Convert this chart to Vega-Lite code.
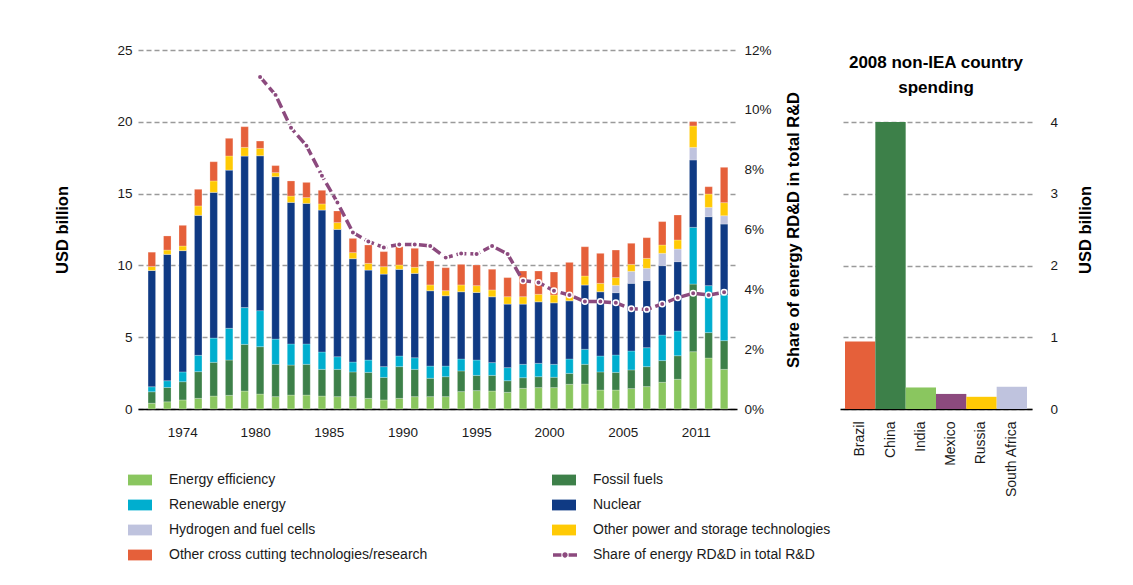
{
  "$schema": "https://vega.github.io/schema/vega-lite/v6.json",
  "padding": {"left": 54, "top": 43, "right": 5, "bottom": 5},
  "background": "white",
  "config": {
    "font": "Liberation Sans",
    "view": {"stroke": null},
    "axis": {
      "labelFont": "Liberation Sans",
      "labelFontSize": 13.5,
      "labelColor": "#1a1a1a",
      "titleFont": "Liberation Sans",
      "titleFontSize": 16.5,
      "titleFontWeight": "bold",
      "titleColor": "#000000",
      "ticks": false,
      "domain": false,
      "gridColor": "#9a9a9a",
      "gridDash": [5, 3],
      "gridWidth": 1.3
    },
    "legend": {
      "labelFont": "Liberation Sans",
      "labelFontSize": 14,
      "labelColor": "#1a1a1a",
      "labelLimit": 400,
      "padding": 0
    }
  },
  "datasets": {
    "rd": [
      {"year": 1974, "Energy efficiency": 0.4, "Fossil fuels": 0.8, "Renewable energy": 0.35, "Nuclear": 8.1, "Hydrogen and fuel cells": 0, "Other power and storage technologies": 0.27, "Other cross cutting technologies/research": 1.0},
      {"year": 1975, "Energy efficiency": 0.5, "Fossil fuels": 1.0, "Renewable energy": 0.47, "Nuclear": 8.8, "Hydrogen and fuel cells": 0, "Other power and storage technologies": 0.3, "Other cross cutting technologies/research": 0.98},
      {"year": 1976, "Energy efficiency": 0.63, "Fossil fuels": 1.27, "Renewable energy": 0.68, "Nuclear": 8.45, "Hydrogen and fuel cells": 0, "Other power and storage technologies": 0.32, "Other cross cutting technologies/research": 1.44},
      {"year": 1977, "Energy efficiency": 0.74, "Fossil fuels": 1.86, "Renewable energy": 1.14, "Nuclear": 9.75, "Hydrogen and fuel cells": 0, "Other power and storage technologies": 0.65, "Other cross cutting technologies/research": 1.16},
      {"year": 1978, "Energy efficiency": 0.9, "Fossil fuels": 2.35, "Renewable energy": 1.69, "Nuclear": 10.15, "Hydrogen and fuel cells": 0, "Other power and storage technologies": 0.79, "Other cross cutting technologies/research": 1.34},
      {"year": 1979, "Energy efficiency": 0.95, "Fossil fuels": 2.46, "Renewable energy": 2.21, "Nuclear": 11.02, "Hydrogen and fuel cells": 0, "Other power and storage technologies": 0.98, "Other cross cutting technologies/research": 1.23},
      {"year": 1980, "Energy efficiency": 1.25, "Fossil fuels": 3.25, "Renewable energy": 2.56, "Nuclear": 10.56, "Hydrogen and fuel cells": 0, "Other power and storage technologies": 0.6, "Other cross cutting technologies/research": 1.44},
      {"year": 1981, "Energy efficiency": 1.04, "Fossil fuels": 3.3, "Renewable energy": 2.51, "Nuclear": 10.79, "Hydrogen and fuel cells": 0, "Other power and storage technologies": 0.51, "Other cross cutting technologies/research": 0.51},
      {"year": 1982, "Energy efficiency": 0.86, "Fossil fuels": 2.25, "Renewable energy": 1.76, "Nuclear": 11.31, "Hydrogen and fuel cells": 0, "Other power and storage technologies": 0.28, "Other cross cutting technologies/research": 0.49},
      {"year": 1983, "Energy efficiency": 0.97, "Fossil fuels": 2.09, "Renewable energy": 1.47, "Nuclear": 9.86, "Hydrogen and fuel cells": 0, "Other power and storage technologies": 0.44, "Other cross cutting technologies/research": 1.05},
      {"year": 1984, "Energy efficiency": 0.97, "Fossil fuels": 2.14, "Renewable energy": 1.42, "Nuclear": 9.79, "Hydrogen and fuel cells": 0, "Other power and storage technologies": 0.4, "Other cross cutting technologies/research": 1.06},
      {"year": 1985, "Energy efficiency": 0.9, "Fossil fuels": 1.86, "Renewable energy": 1.21, "Nuclear": 9.89, "Hydrogen and fuel cells": 0, "Other power and storage technologies": 0.42, "Other cross cutting technologies/research": 0.95},
      {"year": 1986, "Energy efficiency": 0.86, "Fossil fuels": 1.9, "Renewable energy": 0.88, "Nuclear": 8.87, "Hydrogen and fuel cells": 0, "Other power and storage technologies": 0.47, "Other cross cutting technologies/research": 0.81},
      {"year": 1987, "Energy efficiency": 0.86, "Fossil fuels": 1.72, "Renewable energy": 0.69, "Nuclear": 7.2, "Hydrogen and fuel cells": 0, "Other power and storage technologies": 0.42, "Other cross cutting technologies/research": 0.99},
      {"year": 1988, "Energy efficiency": 0.74, "Fossil fuels": 1.81, "Renewable energy": 0.86, "Nuclear": 6.27, "Hydrogen and fuel cells": 0, "Other power and storage technologies": 0.46, "Other cross cutting technologies/research": 1.28},
      {"year": 1989, "Energy efficiency": 0.63, "Fossil fuels": 1.57, "Renewable energy": 0.75, "Nuclear": 6.45, "Hydrogen and fuel cells": 0, "Other power and storage technologies": 0.51, "Other cross cutting technologies/research": 1.05},
      {"year": 1990, "Energy efficiency": 0.74, "Fossil fuels": 2.21, "Renewable energy": 0.74, "Nuclear": 6.04, "Hydrogen and fuel cells": 0, "Other power and storage technologies": 0.3, "Other cross cutting technologies/research": 1.27},
      {"year": 1991, "Energy efficiency": 0.86, "Fossil fuels": 1.9, "Renewable energy": 0.81, "Nuclear": 5.88, "Hydrogen and fuel cells": 0, "Other power and storage technologies": 0.42, "Other cross cutting technologies/research": 1.32},
      {"year": 1992, "Energy efficiency": 0.86, "Fossil fuels": 1.28, "Renewable energy": 0.85, "Nuclear": 5.25, "Hydrogen and fuel cells": 0, "Other power and storage technologies": 0.4, "Other cross cutting technologies/research": 1.67},
      {"year": 1993, "Energy efficiency": 0.86, "Fossil fuels": 1.39, "Renewable energy": 0.74, "Nuclear": 4.9, "Hydrogen and fuel cells": 0, "Other power and storage technologies": 0.35, "Other cross cutting technologies/research": 1.6},
      {"year": 1994, "Energy efficiency": 1.21, "Fossil fuels": 1.44, "Renewable energy": 0.83, "Nuclear": 4.69, "Hydrogen and fuel cells": 0, "Other power and storage technologies": 0.47, "Other cross cutting technologies/research": 1.43},
      {"year": 1995, "Energy efficiency": 1.28, "Fossil fuels": 1.06, "Renewable energy": 1.07, "Nuclear": 4.71, "Hydrogen and fuel cells": 0, "Other power and storage technologies": 0.47, "Other cross cutting technologies/research": 1.44},
      {"year": 1996, "Energy efficiency": 1.25, "Fossil fuels": 1.09, "Renewable energy": 0.89, "Nuclear": 4.59, "Hydrogen and fuel cells": 0, "Other power and storage technologies": 0.47, "Other cross cutting technologies/research": 1.44},
      {"year": 1997, "Energy efficiency": 1.16, "Fossil fuels": 0.81, "Renewable energy": 0.91, "Nuclear": 4.43, "Hydrogen and fuel cells": 0, "Other power and storage technologies": 0.51, "Other cross cutting technologies/research": 1.33},
      {"year": 1998, "Energy efficiency": 1.44, "Fossil fuels": 0.74, "Renewable energy": 0.93, "Nuclear": 4.2, "Hydrogen and fuel cells": 0, "Other power and storage technologies": 0.51, "Other cross cutting technologies/research": 1.79},
      {"year": 1999, "Energy efficiency": 1.49, "Fossil fuels": 0.76, "Renewable energy": 0.93, "Nuclear": 4.29, "Hydrogen and fuel cells": 0, "Other power and storage technologies": 0.52, "Other cross cutting technologies/research": 1.62},
      {"year": 2000, "Energy efficiency": 1.49, "Fossil fuels": 0.72, "Renewable energy": 0.9, "Nuclear": 4.29, "Hydrogen and fuel cells": 0, "Other power and storage technologies": 0.54, "Other cross cutting technologies/research": 1.6},
      {"year": 2001, "Energy efficiency": 1.72, "Fossil fuels": 0.76, "Renewable energy": 1.0, "Nuclear": 4.06, "Hydrogen and fuel cells": 0, "Other power and storage technologies": 0.28, "Other cross cutting technologies/research": 2.39},
      {"year": 2002, "Energy efficiency": 1.74, "Fossil fuels": 1.37, "Renewable energy": 1.05, "Nuclear": 4.48, "Hydrogen and fuel cells": 0, "Other power and storage technologies": 0.62, "Other cross cutting technologies/research": 2.04},
      {"year": 2003, "Energy efficiency": 1.32, "Fossil fuels": 1.26, "Renewable energy": 1.11, "Nuclear": 4.48, "Hydrogen and fuel cells": 0, "Other power and storage technologies": 0.58, "Other cross cutting technologies/research": 2.09},
      {"year": 2004, "Energy efficiency": 1.32, "Fossil fuels": 1.23, "Renewable energy": 1.21, "Nuclear": 4.34, "Hydrogen and fuel cells": 0.51, "Other power and storage technologies": 0.54, "Other cross cutting technologies/research": 1.92},
      {"year": 2005, "Energy efficiency": 1.42, "Fossil fuels": 1.3, "Renewable energy": 1.32, "Nuclear": 4.71, "Hydrogen and fuel cells": 0.84, "Other power and storage technologies": 0.48, "Other cross cutting technologies/research": 1.47},
      {"year": 2006, "Energy efficiency": 1.56, "Fossil fuels": 1.39, "Renewable energy": 1.32, "Nuclear": 4.67, "Hydrogen and fuel cells": 0.86, "Other power and storage technologies": 0.69, "Other cross cutting technologies/research": 1.44},
      {"year": 2007, "Energy efficiency": 1.86, "Fossil fuels": 1.51, "Renewable energy": 1.78, "Nuclear": 4.83, "Hydrogen and fuel cells": 0.86, "Other power and storage technologies": 0.58, "Other cross cutting technologies/research": 1.63},
      {"year": 2008, "Energy efficiency": 2.07, "Fossil fuels": 1.64, "Renewable energy": 1.72, "Nuclear": 4.83, "Hydrogen and fuel cells": 0.88, "Other power and storage technologies": 0.63, "Other cross cutting technologies/research": 1.74},
      {"year": 2009, "Energy efficiency": 3.99, "Fossil fuels": 4.71, "Renewable energy": 3.95, "Nuclear": 4.69, "Hydrogen and fuel cells": 0.88, "Other power and storage technologies": 1.49, "Other cross cutting technologies/research": 0.3},
      {"year": 2010, "Energy efficiency": 3.55, "Fossil fuels": 1.77, "Renewable energy": 3.27, "Nuclear": 4.8, "Hydrogen and fuel cells": 0.65, "Other power and storage technologies": 0.93, "Other cross cutting technologies/research": 0.51},
      {"year": 2011, "Energy efficiency": 2.76, "Fossil fuels": 2.0, "Renewable energy": 3.18, "Nuclear": 4.94, "Hydrogen and fuel cells": 0.58, "Other power and storage technologies": 0.91, "Other cross cutting technologies/research": 2.46}
    ],
    "techs": [
      {"tech": "Energy efficiency", "rank": 1},
      {"tech": "Fossil fuels", "rank": 2},
      {"tech": "Renewable energy", "rank": 3},
      {"tech": "Nuclear", "rank": 4},
      {"tech": "Hydrogen and fuel cells", "rank": 5},
      {"tech": "Other power and storage technologies", "rank": 6},
      {"tech": "Other cross cutting technologies/research", "rank": 7}
    ],
    "share": [
      {"year": 1981, "share": 11.1}, {"year": 1982, "share": 10.5}, {"year": 1983, "share": 9.4},
      {"year": 1984, "share": 8.8}, {"year": 1985, "share": 7.8}, {"year": 1986, "share": 6.9},
      {"year": 1987, "share": 5.9}, {"year": 1988, "share": 5.6}, {"year": 1989, "share": 5.4},
      {"year": 1990, "share": 5.5}, {"year": 1991, "share": 5.5}, {"year": 1992, "share": 5.45},
      {"year": 1993, "share": 5.06}, {"year": 1994, "share": 5.2}, {"year": 1995, "share": 5.18},
      {"year": 1996, "share": 5.45}, {"year": 1997, "share": 5.18}, {"year": 1998, "share": 4.29},
      {"year": 1999, "share": 4.23}, {"year": 2000, "share": 3.95}, {"year": 2001, "share": 3.81},
      {"year": 2002, "share": 3.59}, {"year": 2003, "share": 3.59}, {"year": 2004, "share": 3.55},
      {"year": 2005, "share": 3.35}, {"year": 2006, "share": 3.33}, {"year": 2007, "share": 3.51},
      {"year": 2008, "share": 3.72}, {"year": 2009, "share": 3.87}, {"year": 2010, "share": 3.81},
      {"year": 2011, "share": 3.9}
    ],
    "countries": [
      {"country": "Brazil", "value": 0.94},
      {"country": "China", "value": 4.0},
      {"country": "India", "value": 0.3},
      {"country": "Mexico", "value": 0.21},
      {"country": "Russia", "value": 0.17},
      {"country": "South Africa", "value": 0.31}
    ]
  },
  "hconcat": [
    {
      "width": 599,
      "height": 359,
      "layer": [
        {
          "data": {"name": "rd"},
          "transform": [
            {"fold": ["Energy efficiency", "Fossil fuels", "Renewable energy", "Nuclear", "Hydrogen and fuel cells", "Other power and storage technologies", "Other cross cutting technologies/research"], "as": ["tech", "value"]},
            {"lookup": "tech", "from": {"data": {"name": "techs"}, "key": "tech", "fields": ["rank"]}}
          ],
          "mark": {"type": "bar", "size": 7.5, "stroke": "white", "strokeWidth": 0.4, "strokeOpacity": 0.6},
          "encoding": {
            "x": {
              "field": "year", "type": "quantitative",
              "scale": {"domain": [1973.43, 2011.51], "nice": false, "zero": false},
              "axis": {
                "title": null, "grid": false, "domain": true, "domainColor": "#000000", "domainWidth": 1.5,
                "values": [1975.97, 1980.68, 1985.44, 1990.21, 1994.98, 1999.68, 2004.45, 2009.16],
                "labelExpr": "datum.value < 1978 ? '1974' : datum.value < 1983 ? '1980' : datum.value < 1988 ? '1985' : datum.value < 1992 ? '1990' : datum.value < 1997 ? '1995' : datum.value < 2002 ? '2000' : datum.value < 2007 ? '2005' : '2011'",
                "labelPadding": 16, "labelFlush": false, "labelOverlap": false
              }
            },
            "y": {
              "field": "value", "type": "quantitative", "stack": "zero",
              "scale": {"domain": [0, 25], "nice": false},
              "axis": {"values": [0, 5, 10, 15, 20, 25], "title": "USD billion", "labelPadding": 6, "titlePadding": 46, "grid": true}
            },
            "order": {"field": "rank", "type": "quantitative", "sort": "ascending"},
            "color": {
              "field": "tech", "type": "nominal",
              "sort": ["Energy efficiency", "Fossil fuels", "Renewable energy", "Nuclear", "Hydrogen and fuel cells", "Other power and storage technologies", "Other cross cutting technologies/research"],
              "scale": {
                "domain": ["Energy efficiency", "Fossil fuels", "Renewable energy", "Nuclear", "Hydrogen and fuel cells", "Other power and storage technologies", "Other cross cutting technologies/research"],
                "range": ["#8AC65F", "#3D8049", "#00AECF", "#0F3A84", "#BFC3DE", "#FFCA05", "#E5603A"]
              },
              "legend": {
                "title": null, "orient": "none", "legendX": -10, "legendY": 418,
                "direction": "horizontal", "columns": 2, "columnPadding": 124, "rowPadding": 6,
                "symbolType": "M-1,-0.45H1V0.45H-1Z", "symbolSize": 576, "symbolStrokeWidth": 0,
                "labelOffset": 17
              }
            }
          }
        },
        {
          "data": {"name": "share"},
          "encoding": {
            "x": {"field": "year", "type": "quantitative", "scale": {"domain": [1973.43, 2011.51], "nice": false, "zero": false}},
            "y": {
              "field": "share", "type": "quantitative",
              "scale": {"domain": [0, 12], "nice": false},
              "axis": {"orient": "right", "values": [0, 2, 4, 6, 8, 10, 12], "labelExpr": "datum.value + '%'", "grid": false, "title": "Share of energy RD&D in total R&D", "titleAngle": -90, "titleBaseline": "top", "labelPadding": 7, "titlePadding": 14}
            }
          },
          "layer": [
            {
              "mark": {"type": "line", "strokeDash": [10, 4], "strokeWidth": 3.5},
              "encoding": {
                "stroke": {
                  "datum": "Share of energy RD&D in total R&D", "type": "nominal",
                  "scale": {"range": ["#8C4A7E"]},
                  "legend": {
                    "title": null, "orient": "none", "legendX": 415, "legendY": 493,
                    "symbolType": "M-1,-0.14H-0.3V0.14H-1Z M0.3,-0.14H1V0.14H0.3Z M-0.22,0A0.22,0.22 0 1,0 0.22,0A0.22,0.22 0 1,0 -0.22,0Z",
                    "symbolSize": 576, "labelOffset": 16,
                    "encode": {"symbols": {"update": {"fill": {"value": "#8C4A7E"}, "strokeWidth": {"value": 0}}}}
                  }
                }
              }
            },
            {
              "mark": {"type": "point", "filled": true, "size": 30, "fill": "#8C4A7E", "stroke": "white", "strokeWidth": 1.5, "opacity": 1}
            }
          ]
        }
      ],
      "resolve": {"scale": {"y": "independent"}}
    },
    {
      "width": 192,
      "height": 359,
      "data": {"name": "countries"},
      "title": {
        "text": ["2008 non-IEA country", "spending"],
        "font": "Liberation Sans", "fontSize": 17, "fontWeight": "bold", "color": "#000000",
        "anchor": "middle", "lineHeight": 25, "offset": -47
      },
      "mark": {"type": "bar"},
      "encoding": {
        "x": {
          "field": "country", "type": "nominal",
          "scale": {"paddingInner": 0, "paddingOuter": 0.165},
          "axis": {"title": null, "labelAngle": -90, "labelFontSize": 14, "domain": true, "domainColor": "#000000", "domainWidth": 1.5, "labelPadding": 12}
        },
        "y": {
          "field": "value", "type": "quantitative",
          "scale": {"domain": [0, 5.0035], "nice": false},
          "axis": {"orient": "right", "values": [0, 1, 2, 3, 4], "title": "USD billion", "titleAngle": -90, "titleBaseline": "top", "labelPadding": 18, "titlePadding": 20, "grid": true}
        },
        "color": {
          "field": "country", "type": "nominal",
          "scale": {
            "domain": ["Brazil", "China", "India", "Mexico", "Russia", "South Africa"],
            "range": ["#E5603A", "#3D8049", "#8AC65F", "#8C4A7E", "#FFCA05", "#BFC3DE"]
          },
          "legend": null
        }
      }
    }
  ],
  "spacing": 9,
  "resolve": {"scale": {"color": "independent"}, "legend": {"color": "independent"}}
}
